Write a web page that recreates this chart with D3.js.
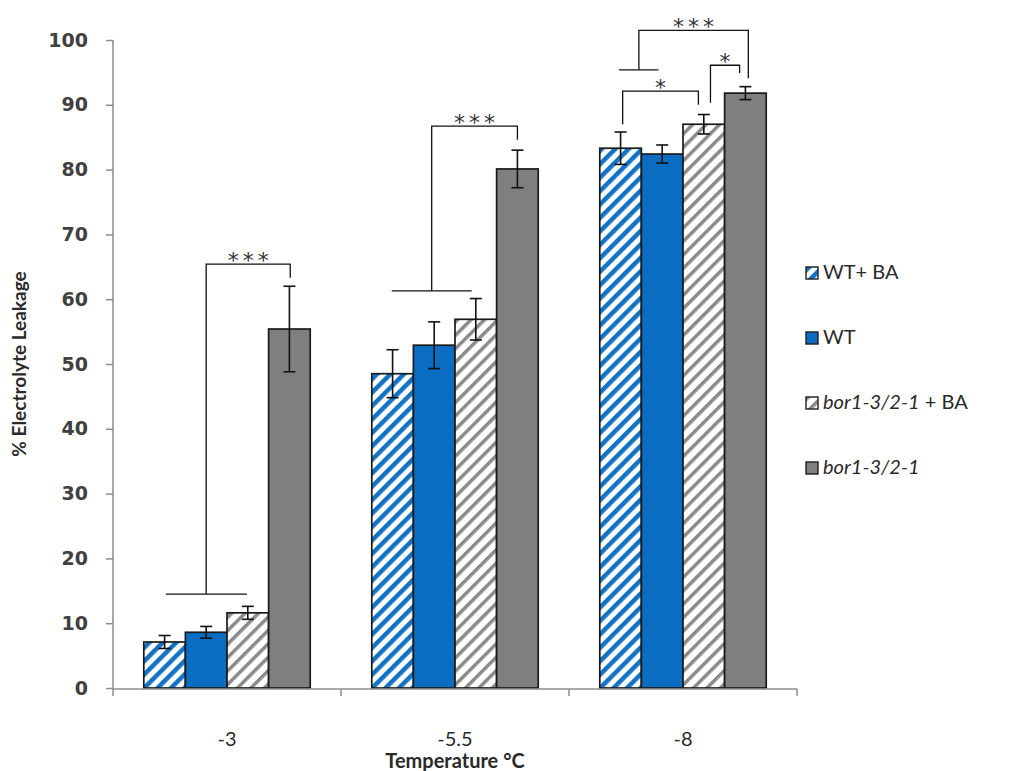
<!DOCTYPE html>
<html>
<head>
<meta charset="utf-8">
<script src="https://cdn.jsdelivr.net/npm/d3@7"></script>
<style>
  html, body { margin: 0; padding: 0; background: #fff; }
  svg { display: block; }
</style>
</head>
<body>
<svg id="chart" width="1018" height="771"></svg>
<script>
// ---------- data ----------
const categories = ["-3", "-5.5", "-8"];
const seriesNames = ["WT+ BA", "WT", "bor1-3/2-1 + BA", "bor1-3/2-1"];
const wtBA      = [7.1, 48.5, 83.3];
const wtBAErr   = [1.0, 3.7, 2.5];
const wt        = [8.6, 52.9, 82.4];
const wtErr     = [0.9, 3.6, 1.4];
const borBA     = [11.6, 56.9, 87.0];
const borBAErr  = [1.0, 3.2, 1.5];
const bor       = [55.4, 80.1, 91.8];
const borErr    = [6.6, 2.9, 1.0];
const yTicks    = [0, 10, 20, 30, 40, 50, 60, 70, 80, 90, 100];

// significance annotations (positions in bar-slot units within a group, heights in % units)
const groupLines = [
  { g: 0, p1: 0.53, p2: 2.48, v: 14.5 },
  { g: 1, p1: 0.48, p2: 2.40, v: 61.3 },
  { g: 2, p1: 0.46, p2: 1.41, v: 95.4 }
];
const brackets = [
  { g: 0, pL: 1.50, vL: 14.5, pR: 3.52, vR: 63.3, top: 65.4, label: "***" },
  { g: 1, pL: 1.44, vL: 61.3, pR: 3.50, vR: 84.6, top: 86.7, label: "***" },
  { g: 2, pL: 0.94, vL: 95.4, pR: 3.57, vR: 94.1, top: 101.5, label: "***" },
  { g: 2, pL: 0.55, vL: 87.0, pR: 2.37, vR: 90.0, top: 92.1, label: "*" },
  { g: 2, pL: 2.66, vL: 90.3, pR: 3.36, vR: 94.9, top: 96.1, label: "*" }
];

const valueSets = [wtBA, wt, borBA, bor];
const errSets = [wtBAErr, wtErr, borBAErr, borErr];

// ---------- layout ----------
const svg = d3.select("#chart");
const plotLeft = 113, plotRight = 797, plotTop = 40, plotBottom = 688;

const x0 = d3.scaleBand().domain(categories).range([plotLeft, plotRight])
  .paddingInner(0.27).paddingOuter(0.135);
const x1 = d3.scaleBand().domain(d3.range(seriesNames.length)).range([0, x0.bandwidth()]);
const y = d3.scaleLinear().domain([0, 100]).range([plotBottom, plotTop]);
const slotX = (g, p) => x0(categories[g]) + p * x1.bandwidth();

// patterns
const defs = svg.append("defs");
function stripe(id, color, w, sw) {
  const p = defs.append("pattern").attr("id", id).attr("patternUnits", "userSpaceOnUse")
    .attr("width", w).attr("height", w).attr("patternTransform", "rotate(45)");
  p.append("rect").attr("width", w).attr("height", w).attr("fill", "#fff");
  p.append("rect").attr("width", sw).attr("height", w).attr("fill", color);
}
stripe("blueStripe", "#1272c4", 9.5, 4.5);
stripe("grayStripe", "#8a8a8a", 9.5, 3.5);
const fills = ["url(#blueStripe)", "#0b6dc2", "url(#grayStripe)", "#7f7f7f"];

// axes
const axisColor = "#8c8c8c";
const yAxis = d3.axisLeft(y).tickValues(yTicks).tickSize(7).tickPadding(18);
const yg = svg.append("g").attr("transform", `translate(${plotLeft},0)`).call(yAxis);
yg.select(".domain").attr("stroke", axisColor).attr("stroke-width", 1.5)
  .attr("d", `M0,${plotTop}V${plotBottom + 1}`);
yg.selectAll(".tick line").attr("stroke", axisColor).attr("stroke-width", 1.5);
yg.selectAll(".tick text").attr("font-family", "DejaVu Sans").attr("font-weight", "bold")
  .attr("font-size", 19).attr("fill", "#404040");

// bars
const groups = svg.append("g").selectAll("g").data(categories).join("g")
  .attr("transform", d => `translate(${x0(d)},0)`);

groups.each(function(cat, gi) {
  const g = d3.select(this);
  seriesNames.forEach((s, si) => {
    const v = valueSets[si][gi];
    g.append("rect")
      .attr("x", x1(si)).attr("y", y(v))
      .attr("width", x1.bandwidth()).attr("height", y(0) - y(v))
      .attr("fill", fills[si]).attr("stroke", "#1a1a1a").attr("stroke-width", 1.7);
  });
});

// x axis (drawn after bars)
const xg = svg.append("g").attr("transform", `translate(0,${plotBottom + 1})`);
xg.append("line").attr("x1", plotLeft).attr("x2", plotRight).attr("stroke", axisColor).attr("stroke-width", 1.5);
const xTickPos = [plotLeft, ...categories.map(c => x0(c) + x0.bandwidth() / 2 + x0.step() / 2)];
xg.selectAll(".xt").data(xTickPos).join("line").attr("class", "xt")
  .attr("x1", d => d).attr("x2", d => d).attr("y1", 0).attr("y2", 7)
  .attr("stroke", axisColor).attr("stroke-width", 1.5);
xg.selectAll(".xl").data(categories).join("text").attr("class", "xl")
  .attr("x", d => x0(d) + x0.bandwidth() / 2).attr("y", 57)
  .attr("text-anchor", "middle").attr("font-family", "Lato").attr("font-size", 20)
  .attr("fill", "#2a2a2a").text(d => d);

// error bars
groups.each(function(cat, gi) {
  const g = d3.select(this);
  seriesNames.forEach((s, si) => {
    const v = valueSets[si][gi], e = errSets[si][gi];
    const cx = x1(si) + x1.bandwidth() / 2;
    g.append("line").attr("x1", cx).attr("x2", cx).attr("y1", y(v + e)).attr("y2", y(v - e))
      .attr("stroke", "#111").attr("stroke-width", 1.6);
    [v + e, v - e].forEach(t => g.append("line")
      .attr("x1", cx - 6).attr("x2", cx + 6).attr("y1", y(t)).attr("y2", y(t))
      .attr("stroke", "#111").attr("stroke-width", 1.6));
  });
});

// significance marks
const ann = svg.append("g").attr("stroke", "#111").attr("stroke-width", 1.3).attr("fill", "none");
groupLines.forEach(d => {
  ann.append("line").attr("x1", slotX(d.g, d.p1)).attr("x2", slotX(d.g, d.p2))
    .attr("y1", y(d.v)).attr("y2", y(d.v));
});
brackets.forEach(d => {
  const xl = slotX(d.g, d.pL), xr = slotX(d.g, d.pR);
  ann.append("path").attr("d", `M${xl},${y(d.vL)}V${y(d.top)}H${xr}V${y(d.vR)}`);
  svg.append("text").attr("x", (xl + xr) / 2 + 2).attr("y", y(d.top) + 4)
    .attr("text-anchor", "middle").attr("font-family", "DejaVu Sans").attr("font-size", 22)
    .attr("letter-spacing", 4).attr("fill", "#333").text(d.label);
});

// axis titles
svg.append("text").attr("x", 455).attr("y", 768).attr("text-anchor", "middle")
  .attr("font-family", "Lato").attr("font-weight", "bold").attr("font-size", 20)
  .attr("fill", "#2a2a2a").text("Temperature °C");
svg.append("text").attr("transform", `translate(26,${(plotTop + plotBottom) / 2}) rotate(-90)`)
  .attr("text-anchor", "middle").attr("font-family", "Lato").attr("font-weight", "bold")
  .attr("font-size", 19).attr("fill", "#2a2a2a").text("% Electrolyte Leakage");

// legend
const legend = svg.append("g").attr("transform", "translate(806,267)");
seriesNames.forEach((s, i) => {
  const row = legend.append("g").attr("transform", `translate(0,${i * 65})`);
  row.append("rect").attr("width", 12).attr("height", 12).attr("fill", fills[i])
    .attr("stroke", "#1e1e1e").attr("stroke-width", 1.4);
  const t = row.append("text").attr("x", 17).attr("y", 12).attr("font-family", "Lato")
    .attr("font-size", 20).attr("fill", "#2a2a2a");
  if (s.startsWith("bor")) {
    t.append("tspan").attr("font-style", "italic").text("bor1-3/2-1");
    if (s.length > 10) t.append("tspan").text(" + BA");
  } else {
    t.text(s);
  }
});
</script>
</body>
</html>
